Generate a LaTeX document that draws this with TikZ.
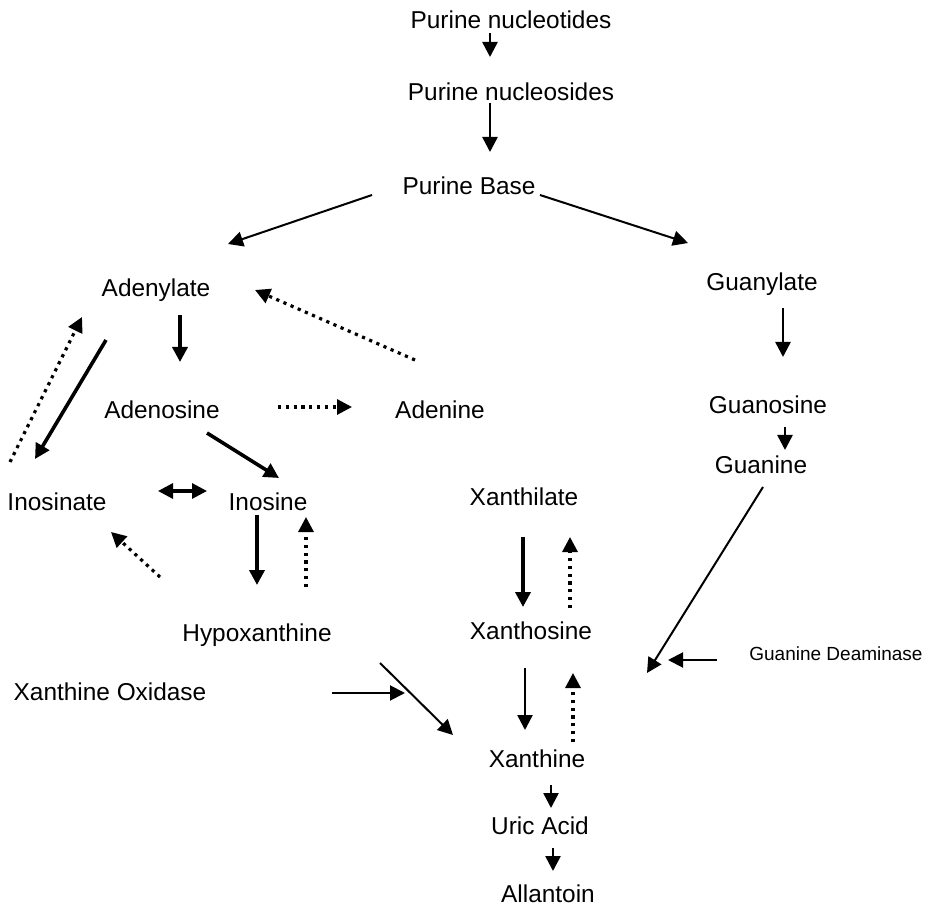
\documentclass[tikz,border=0pt]{standalone}
\usepackage{fontspec}
\setmainfont{Liberation Sans}
\usetikzlibrary{arrows.meta}
\begin{document}
\begin{tikzpicture}[x=1pt,y=-1pt,
  lbl/.style={inner sep=0pt,text height=17.5pt,text depth=0pt,font=\fontsize{24.4}{28}\selectfont},
  smalllbl/.style={inner sep=0pt,text height=13.6pt,text depth=0pt,font=\fontsize{19}{22}\selectfont},
  tip/.style={-{Triangle[length=15pt,width=15pt]}},
  thickarr/.style={tip,line width=3.6pt},
  medarr/.style={tip,line width=2.6pt},
  thinarr/.style={tip,line width=2pt},
  dotarr/.style={tip,line width=3.2pt,dash pattern=on 3.2pt off 4.6pt},
  dblarr/.style={{Triangle[length=15pt,width=15pt]}-{Triangle[length=15pt,width=15pt]},line width=3.2pt}]
\useasboundingbox[fill=white] (0,0) rectangle (930,909);
% labels
\node[lbl] (nt) at (511,20) {Purine nucleotides};
\node[lbl] (ns) at (511,92) {Purine nucleosides};
\node[lbl] (pb) at (469,186) {Purine Base};
\node[lbl] (ady) at (156,288) {Adenylate};
\node[lbl] (gua) at (762,282) {Guanylate};
\node[lbl] (ads) at (162,410) {Adenosine};
\node[lbl] (adn) at (440,410) {Adenine};
\node[lbl] (gsn) at (768,405) {Guanosine};
\node[lbl] (gne) at (761,465) {Guanine};
\node[lbl] (ino) at (57,502) {Inosinate};
\node[lbl] (isn) at (268,502) {Inosine};
\node[lbl] (xla) at (524,497) {Xanthilate};
\node[lbl] (hyp) at (257,633) {Hypoxanthine};
\node[lbl] (xsn) at (531,631) {Xanthosine};
\node[lbl] (xox) at (110,692) {Xanthine Oxidase};
\node[smalllbl] (gd) at (836,654) {Guanine Deaminase};
\node[lbl] (xan) at (537,759) {Xanthine};
\node[lbl] (uric) at (540,826) {Uric Acid};
\node[lbl] (all) at (548,894) {Allantoin};
% connector end points
\coordinate (nt-s) at (490,33);  \coordinate (ns-n) at (490,57);
\coordinate (ns-s) at (490,103); \coordinate (pb-n) at (490,152);
\coordinate (pb-l) at (372,195); \coordinate (ady-r) at (228,244);
\coordinate (pb-r) at (540,195); \coordinate (gua-l) at (688,243);
\coordinate (ady-s) at (180,315); \coordinate (ads-n) at (180,362);
\coordinate (ady-sw) at (106,340); \coordinate (ino-n) at (35,459);
\coordinate (ino-ne) at (10,462); \coordinate (ady-w) at (82,317);
\coordinate (adn-nw) at (415,360); \coordinate (ady-e) at (255,290);
\coordinate (ads-e) at (278,407); \coordinate (adn-w) at (352,407);
\coordinate (ads-se) at (207,433); \coordinate (isn-nw) at (279,478);
\coordinate (ino-e) at (158,491); \coordinate (isn-w) at (207,491);
\coordinate (isn-s) at (257,515); \coordinate (hyp-n) at (257,585);
\coordinate (hyp-ne) at (306,587); \coordinate (isn-se) at (306,517);
\coordinate (hyp-nw) at (160,577); \coordinate (ino-se) at (111,532);
\coordinate (gua-s) at (783,308); \coordinate (gsn-n) at (783,357);
\coordinate (gsn-s) at (785,427); \coordinate (gne-n) at (785,450);
\coordinate (gne-s) at (763,487); \coordinate (gend) at (647,673);
\coordinate (gd-w) at (717,660); \coordinate (gdend) at (668,660);
\coordinate (xla-s) at (523,537); \coordinate (xsn-n) at (523,607);
\coordinate (xsn-ne) at (570,608); \coordinate (xla-se) at (570,537);
\coordinate (xsn-s) at (525,668); \coordinate (xan-n) at (525,730);
\coordinate (xan-ne) at (573,742); \coordinate (xsn-se) at (573,673);
\coordinate (xox-e) at (332,693); \coordinate (xoxend) at (405,693);
\coordinate (hyp-se) at (380,663); \coordinate (xan-w) at (453,735);
\coordinate (xan-s) at (551,785); \coordinate (uric-n) at (551,808);
\coordinate (uric-s) at (553,848); \coordinate (all-n) at (553,871);
% connectors
\draw[medarr] (nt-s) -- (ns-n);
\draw[medarr] (ns-s) -- (pb-n);
\draw[thinarr] (pb-l) -- (ady-r);
\draw[thinarr] (pb-r) -- (gua-l);
\draw[thickarr] (ady-s) -- (ads-n);
\draw[thickarr] (ady-sw) -- (ino-n);
\draw[dotarr] (ino-ne) -- (ady-w);
\draw[dotarr] (adn-nw) -- (ady-e);
\draw[dotarr] (ads-e) -- (adn-w);
\draw[thickarr] (ads-se) -- (isn-nw);
\draw[dblarr] (ino-e) -- (isn-w);
\draw[thickarr] (isn-s) -- (hyp-n);
\draw[dotarr] (hyp-ne) -- (isn-se);
\draw[dotarr] (hyp-nw) -- (ino-se);
\draw[medarr] (gua-s) -- (gsn-n);
\draw[medarr] (gsn-s) -- (gne-n);
\draw[thinarr] (gne-s) -- (gend);
\draw[thinarr] (gd-w) -- (gdend);
\draw[thickarr] (xla-s) -- (xsn-n);
\draw[dotarr] (xsn-ne) -- (xla-se);
\draw[medarr] (xsn-s) -- (xan-n);
\draw[dotarr] (xan-ne) -- (xsn-se);
\draw[thinarr] (xox-e) -- (xoxend);
\draw[thinarr] (hyp-se) -- (xan-w);
\draw[medarr] (xan-s) -- (uric-n);
\draw[medarr] (uric-s) -- (all-n);
\end{tikzpicture}
\end{document}
